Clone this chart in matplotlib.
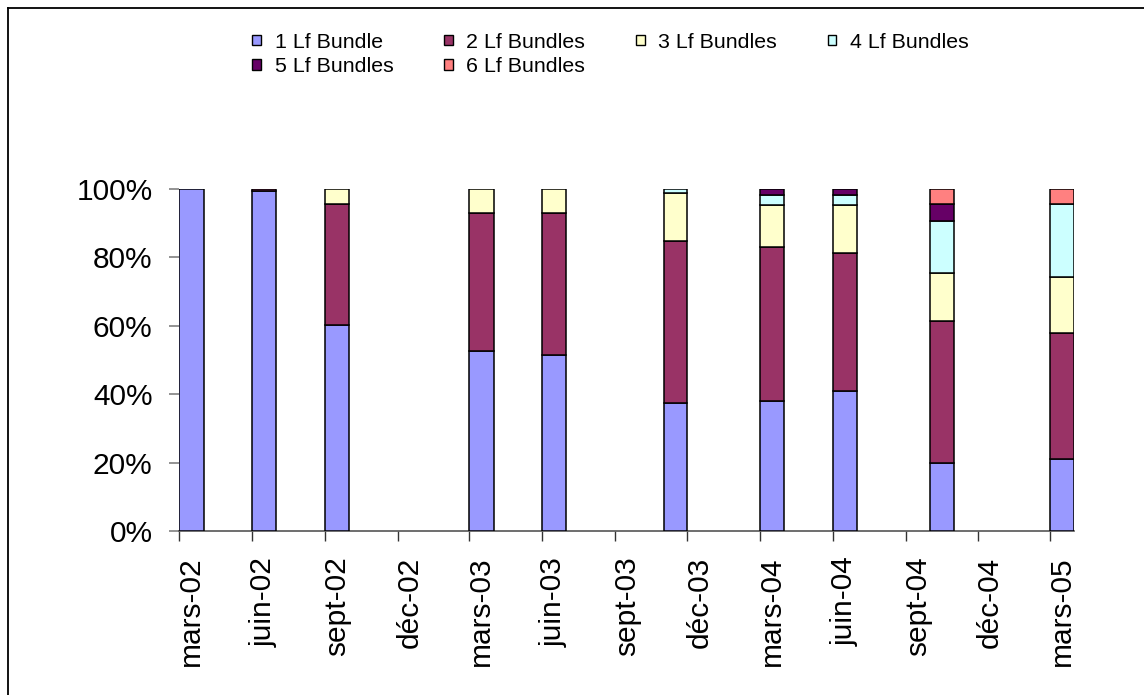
import numpy as np
import matplotlib.pyplot as plt
import matplotlib.dates as mdates
from matplotlib.patches import Patch
from matplotlib.lines import Line2D

plt.rcParams['font.family'] = ['Liberation Sans', 'DejaVu Sans']

# months of each survey (one bar per month)
months = ['2002-03', '2002-06', '2002-09', '2003-03', '2003-06',
          '2003-11', '2004-03', '2004-06', '2004-10', '2005-03']

# share of each bundle class, in %
lf1 = [100.0, 99.3, 60.2, 52.6, 51.5, 37.3, 37.9, 40.9, 19.8, 20.9]
lf2 = [0.0, 0.7, 35.2, 40.4, 41.5, 47.5, 45.1, 40.4, 41.6, 37.0]
lf3 = [0.0, 0.0, 4.6, 7.0, 7.0, 14.0, 12.3, 14.0, 14.0, 16.4]
lf4 = [0.0, 0.0, 0.0, 0.0, 0.0, 1.2, 2.9, 2.9, 15.2, 21.1]
lf5 = [0.0, 0.0, 0.0, 0.0, 0.0, 0.0, 1.8, 1.8, 4.8, 0.0]
lf6 = [0.0, 0.0, 0.0, 0.0, 0.0, 0.0, 0.0, 0.0, 4.6, 4.6]

series_names = ['1 Lf Bundle', '2 Lf Bundles', '3 Lf Bundles',
                '4 Lf Bundles', '5 Lf Bundles', '6 Lf Bundles']
colors = ['#9999FF', '#993366', '#FFFFCC', '#CCFFFF', '#660066', '#FF8080']

tick_months = ['2002-03', '2002-06', '2002-09', '2002-12', '2003-03', '2003-06',
               '2003-09', '2003-12', '2004-03', '2004-06', '2004-09', '2004-12',
               '2005-03']
tick_labels = ['mars-02', 'juin-02', 'sept-02', 'déc-02', 'mars-03', 'juin-03',
               'sept-03', 'déc-03', 'mars-04', 'juin-04', 'sept-04', 'déc-04',
               'mars-05']

start = np.array(months, dtype='datetime64[M]')
left = mdates.date2num(start.astype('datetime64[D]'))
right = mdates.date2num((start + 1).astype('datetime64[D]'))
width = right - left

fig = plt.figure(figsize=(11.44, 6.95), dpi=100)
ax = fig.add_axes([0.1567, 0.236, 0.7823, 0.4925])

bottom = np.zeros(len(months))
for vals, name, col in zip([lf1, lf2, lf3, lf4, lf5, lf6], series_names, colors):
    vals = np.array(vals)
    keep = vals > 0
    ax.bar(left[keep], vals[keep], width=width[keep], bottom=bottom[keep],
           align='edge', color=col, edgecolor='black', linewidth=1.1, zorder=3)
    bottom += vals

ticks = np.array(tick_months, dtype='datetime64[M]')
tick_pos = mdates.date2num(ticks.astype('datetime64[D]'))
lab_pos = tick_pos + 15

ax.set_xlim(left[0], right[-1])
ax.set_ylim(0, 100)
ax.set_xticks(tick_pos)
ax.set_xticklabels([''] * len(tick_pos))
ax.set_xticks(lab_pos, minor=True)
ax.set_xticklabels(tick_labels, minor=True, rotation=90, fontsize=21.5)
ax.tick_params(axis='x', which='major', length=7.2, width=1, color='#333333')
ax.tick_params(axis='x', which='minor', length=0, pad=18.5)

ax.set_yticks([0, 20, 40, 60, 80, 100])
ax.set_yticklabels(['0%', '20%', '40%', '60%', '80%', '100%'], fontsize=21.5)
ax.tick_params(axis='y', length=7.2, width=1.2, color='#808080', pad=12)

for s in ['top', 'right', 'left']:
    ax.spines[s].set_visible(False)
ax.spines['bottom'].set_color('#555555')
ax.spines['bottom'].set_linewidth(1.2)

# legend, row by row like the original layout
handles = [Patch(facecolor=c, edgecolor='black', linewidth=1.0) for c in colors]
order = [0, 4, 1, 5, 2, 3]
fig.legend([handles[i] for i in order], [series_names[i] for i in order],
           ncol=4, loc='upper left', bbox_to_anchor=(0.220, 0.953),
           frameon=False, fontsize=15.4, handlelength=0.42, handleheight=0.38,
           handletextpad=0.65, columnspacing=2.35, labelspacing=0.26, borderpad=0,
           borderaxespad=0)

# chart frame (top and left edges)
fx = 8 / 1144
fy = 1 - 8 / 695
fig.add_artist(Line2D([fx, 1], [fy, fy], color='black', linewidth=1.3))
fig.add_artist(Line2D([fx, fx], [0, fy], color='black', linewidth=1.3))

fig.savefig('out.png', dpi=100)
